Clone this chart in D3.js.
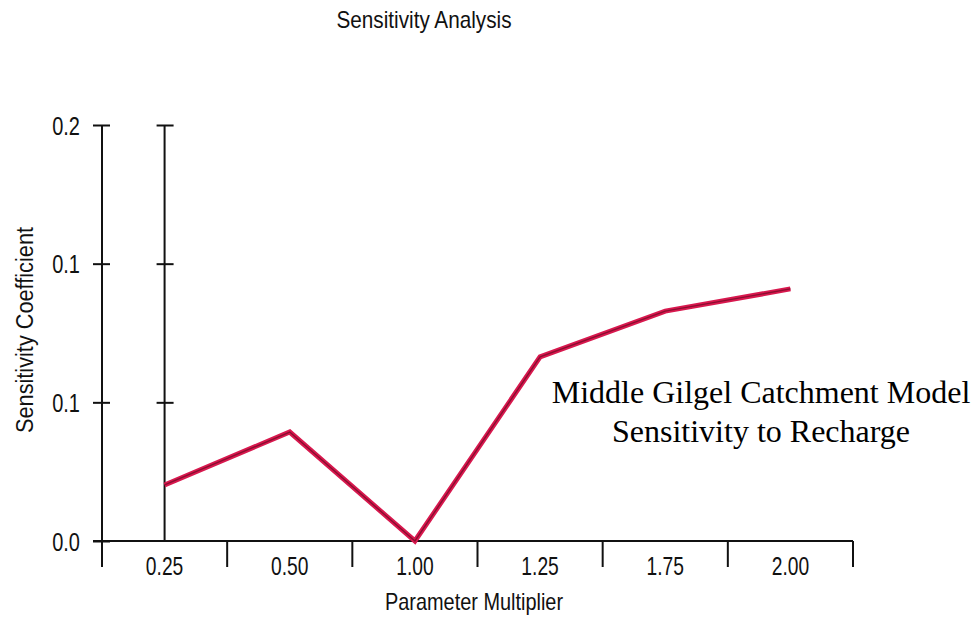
<!DOCTYPE html>
<html>
<head>
<meta charset="utf-8">
<script src="https://cdn.jsdelivr.net/npm/d3@7"></script>
<style>
  html, body { margin: 0; padding: 0; background: #fff; }
  svg { display: block; }
  text { font-family: "Liberation Sans", Arial, sans-serif; fill: #111; }
  .serif { font-family: "Liberation Serif", "Times New Roman", serif; fill: #000; }
</style>
</head>
<body>
<svg id="chart" width="977" height="620"></svg>
<script>
// ---- data ----
const categories = ["0.25", "0.50", "1.00", "1.25", "1.75", "2.00"];
const sensitivity = [0.0202, 0.0393, 0.0, 0.0664, 0.0829, 0.0909];
const yTickValues = [0, 0.05, 0.10, 0.15];
const yTickLabels = ["0.0", "0.1", "0.1", "0.2"];
const chartTitle = "Sensitivity Analysis";
const xTitle = "Parameter Multiplier";
const yTitle = "Sensitivity Coefficient";
const noteLines = ["Middle Gilgel Catchment Model", "Sensitivity to Recharge"];

// ---- layout ----
const svg = d3.select("#chart");
const plotLeft = 102, plotRight = 853, plotTop = 125, plotBottom = 541;
const sansFont = '"Liberation Sans", Arial, sans-serif';

const x = d3.scaleBand().domain(categories).range([plotLeft, plotRight]).padding(0);
const y = d3.scaleLinear().domain([0, 0.15]).range([plotBottom, plotTop]);
const cx = c => x(c) + x.bandwidth() / 2;

function squeeze(sel, ratio) {
  sel.each(function () {
    const w = this.getComputedTextLength();
    d3.select(this).attr("textLength", w * ratio).attr("lengthAdjust", "spacingAndGlyphs");
  });
}

// Y axis (left)
const yAxis = svg.append("g").attr("transform", `translate(${plotLeft},0)`)
  .call(d3.axisLeft(y).tickValues(yTickValues).tickFormat((d, i) => yTickLabels[i])
    .tickSizeInner(9).tickSizeOuter(0).tickPadding(13));
yAxis.select(".domain").attr("stroke", "#111").attr("stroke-width", 2)
  .attr("d", `M0,${plotTop}V${plotBottom}`);
yAxis.selectAll(".tick line").attr("stroke", "#111").attr("stroke-width", 2).attr("x2", -9).attr("x1", 8);
yAxis.selectAll(".tick text").attr("font-size", 25).attr("dy", "0.36em")
  .style("font-family", sansFont).attr("fill", "#111")
  .call(squeeze, 0.8);

// Second vertical line at first category with crossing ticks
const x0 = cx(categories[0]);
const yAxis2 = svg.append("g").attr("transform", `translate(${x0},0)`)
  .call(d3.axisLeft(y).tickValues(yTickValues.slice(1)).tickFormat("").tickSizeInner(9).tickSizeOuter(0));
yAxis2.select(".domain").attr("stroke", "#111").attr("stroke-width", 2)
  .attr("d", `M0,${plotTop}V${plotBottom}`);
yAxis2.selectAll(".tick line").attr("stroke", "#111").attr("stroke-width", 2).attr("x2", -8).attr("x1", 9);

// X axis
const xAxis = svg.append("g").attr("transform", `translate(0,${plotBottom})`)
  .call(d3.axisBottom(x).tickSize(0).tickPadding(16));
xAxis.select(".domain").attr("stroke", "#111").attr("stroke-width", 2)
  .attr("d", `M${plotLeft - 9},0H${plotRight}`);
xAxis.selectAll(".tick text").attr("font-size", 25).attr("dy", "0.71em")
  .style("font-family", sansFont).attr("fill", "#111")
  .call(squeeze, 0.77);
// boundary ticks
const edges = categories.map(c => x(c)).concat([plotRight]);
xAxis.selectAll("line.edge").data(edges).join("line").attr("class", "edge")
  .attr("x1", d => d).attr("x2", d => d).attr("y1", 0).attr("y2", 26)
  .attr("stroke", "#111").attr("stroke-width", 2);

// Line
const line = d3.line().x((d, i) => cx(categories[i])).y(d => y(d));
svg.append("path").datum(sensitivity).attr("d", line)
  .attr("fill", "none").attr("stroke", "#d8184e").attr("stroke-width", 5)
  .attr("stroke-linejoin", "miter");
svg.append("path").datum(sensitivity).attr("d", line)
  .attr("fill", "none").attr("stroke", "#8a0e30").attr("stroke-width", 1.4)
  .attr("stroke-linejoin", "miter");

// Titles
svg.append("text").attr("x", 424).attr("y", 28).attr("text-anchor", "middle")
  .attr("font-size", 24).text(chartTitle).attr("textLength", 175).attr("lengthAdjust", "spacingAndGlyphs");
svg.append("text").attr("x", 474).attr("y", 610).attr("text-anchor", "middle")
  .attr("font-size", 24).text(xTitle).attr("textLength", 178).attr("lengthAdjust", "spacingAndGlyphs");
svg.append("text").attr("transform", "translate(33,330) rotate(-90)").attr("text-anchor", "middle")
  .attr("font-size", 23).text(yTitle).attr("textLength", 206).attr("lengthAdjust", "spacingAndGlyphs");

// Annotation
svg.append("g").selectAll("text").data(noteLines).join("text")
  .attr("class", "serif").attr("x", 761).attr("y", (d, i) => 403 + i * 39)
  .attr("text-anchor", "middle").attr("font-size", 32).text(d => d);
</script>
</body>
</html>
